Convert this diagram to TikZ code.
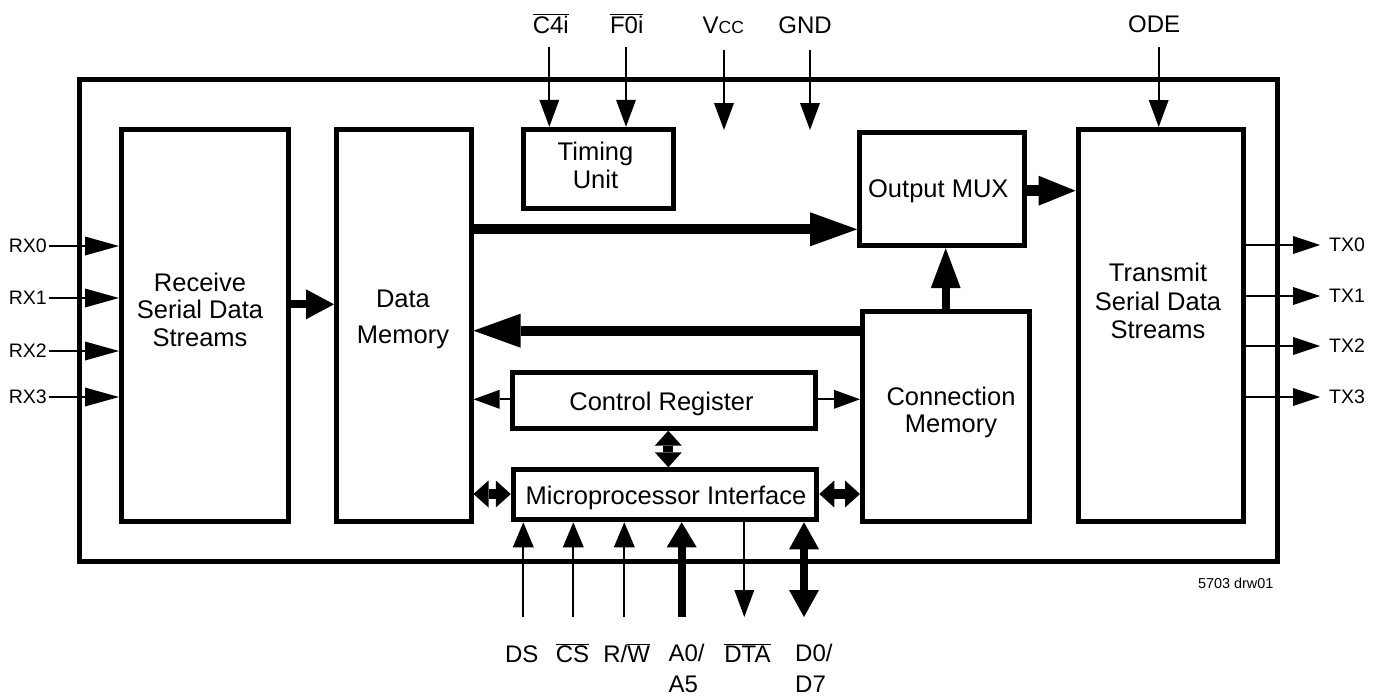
\documentclass[tikz,border=0pt]{standalone}
\usepackage{fontspec}
\setmainfont{Liberation Sans}
\usetikzlibrary{arrows.meta}
\newcommand\ovl[1]{$\overline{\hbox{#1}}$}
\newcommand\fsMain{\fontsize{25.5}{27.5}\selectfont}
\newcommand\fsPin{\fontsize{24}{31}\selectfont}
\newcommand\fsIO{\fontsize{19.5}{22}\selectfont}
\newcommand\fsNote{\fontsize{14.4}{16}\selectfont}
\tikzset{
 blk/.style={draw, line width=5pt, inner sep=0pt},
 txt/.style={inner sep=0pt, align=center, font=\fsMain},
 pinlbl/.style={inner sep=0pt, font=\fsPin, anchor=base},
 iolbl/.style={inner sep=0pt, font=\fsIO},
 sarr/.style={line width=2pt, -{Triangle[length=26pt,width=19pt,line width=0pt]}},
 rxarr/.style={line width=2pt, -{Triangle[length=34pt,width=19pt,line width=0pt]}},
 txarr/.style={line width=2pt, -{Triangle[length=27pt,width=18pt,line width=0pt]}},
 toparr/.style={line width=2pt, -{Triangle[length=27pt,width=20pt,line width=0pt]}},
 botarr/.style={line width=2pt, -{Triangle[length=25pt,width=21pt,line width=0pt]}},
 bigarr/.style={line width=10pt, -{Triangle[length=47pt,width=34pt,line width=0pt]}},
 medarr/.style={line width=8pt, -{Triangle[length=28pt,width=30pt,line width=0pt]}},
 uparr/.style={line width=8pt, -{Triangle[length=40pt,width=30pt,line width=0pt]}},
 muxarr/.style={line width=11pt, -{Triangle[length=37pt,width=30pt,line width=0pt]}},
 busarr/.style={line width=8pt, -{Triangle[length=25pt,width=30pt,line width=0pt]}},
 busdbl/.style={line width=8pt, {Triangle[length=27pt,width=30pt,line width=0pt]}-{Triangle[length=27pt,width=30pt,line width=0pt]}},
 smdbl/.style={line width=10pt, {Triangle[length=15pt,width=27pt,line width=0pt]}-{Triangle[length=15pt,width=27pt,line width=0pt]}},
}
\begin{document}
\begin{tikzpicture}[x=1pt,y=-1pt]
\useasboundingbox (0,0) rectangle (1377,696);

% outer device box
\node[blk, minimum width=1198.5pt, minimum height=482pt] (chip) at (678.25,320.5) {};

% blocks
\node[blk, minimum width=166.5pt, minimum height=391.5pt] (recv) at (204.75,325.25) {};
\node[blk, minimum width=134.5pt, minimum height=391.5pt] (dmem) at (403.75,325.25) {};
\node[blk, minimum width=165pt,   minimum height=391.5pt] (xmit) at (1160.5,325.25) {};
\node[blk, minimum width=149.7pt, minimum height=79pt]    (tim)  at (598.15,168.8) {};
\node[blk, minimum width=165pt,   minimum height=113.7pt] (mux)  at (942.2,188.85) {};
\node[blk, minimum width=166.5pt, minimum height=210.2pt] (cmem) at (945.75,416.4) {};
\node[blk, minimum width=302.8pt, minimum height=55.7pt]  (creg) at (664.1,400.35) {};
\node[blk, minimum width=303.5pt, minimum height=50pt]    (mpi)  at (665.05,494.8) {};

% block texts
\node[txt] (recvT) at (200,309.5) {Receive\\Serial Data\\Streams};
\node[txt, font=\fontsize{25.5}{35.7}\selectfont] (dmemT) at (403,319.7) {Data\\Memory};
\node[txt, font=\fontsize{25.5}{28.3}\selectfont] (xmitT) at (1158,301) {Transmit\\Serial Data\\Streams};
\node[txt, font=\fontsize{25.5}{28}\selectfont] (timT) at (595.5,165) {Timing\\Unit};
\node[txt, anchor=base] (muxT) at (938.3,197) {Output MUX};
\node[txt, font=\fontsize{25.5}{27}\selectfont] (cmemT) at (951,412) {Connection\\Memory};
\node[txt, anchor=base] (cregT) at (661.5,410) {Control Register};
\node[txt, anchor=base] (mpiT) at (666,504) {Microprocessor Interface};

% receive inputs
\foreach \n/\y in {0/246,1/298,2/351,3/397}{
  \node[iolbl, anchor=east] (rx\n) at (47,\y) {RX\n};
  \draw[rxarr, shorten <=1.5pt] (rx\n.east) -- (recv.west |- rx\n.east);
}
% transmit outputs
\foreach \n/\y in {0/245,1/296,2/346,3/397}{
  \node[iolbl, anchor=west] (tx\n) at (1329,\y) {TX\n};
  \draw[txarr, shorten >=9pt] (xmit.east |- tx\n.west) -- (tx\n.west);
}

% internal data paths
\draw[medarr] (recv.east |- 0,304.3) -- (dmem.west |- 0,304.3);
\draw[bigarr] (dmem.east |- 0,229.3) -- (mux.west |- 0,229.3);
\draw[bigarr] (cmem.west |- 0,330.7) -- (dmem.east |- 0,330.7);
\draw[muxarr] (mux.east |- 0,190.7) -- (xmit.west |- 0,190.7);
\draw[uparr] (cmem.north -| 945.7,0) -- (mux.south -| 945.7,0);
\draw[sarr] (creg.west |- 0,399.3) -- (dmem.east |- 0,399.3);
\draw[sarr] (creg.east |- 0,399.3) -- (cmem.west |- 0,399.3);
\draw[smdbl] (creg.south -| 668.3,0) -- (mpi.north -| 668.3,0);
\draw[smdbl] (dmem.east |- 0,494) -- (mpi.west |- 0,494);
\draw[smdbl] (mpi.east |- 0,494) -- (cmem.west |- 0,494);

% top pins
\node[pinlbl] (c4L) at (550.8,33) {\ovl{C4i}};
\node[pinlbl] (f0L) at (626.7,33) {\ovl{F0i}};
\node[pinlbl] (vccL) at (723.3,33) {V{\fontsize{17.5}{17.5}\selectfont CC}};
\node[pinlbl] (gndL) at (805,33) {GND};
\node[pinlbl] (odeL) at (1154.2,32) {ODE};
\coordinate (c4S) at (549.3,47);
\coordinate (f0S) at (626,47);
\coordinate (vccS) at (724,50);
\coordinate (vccE) at (724,130);
\coordinate (gndS) at (810,50);
\coordinate (gndE) at (810,130);
\coordinate (odeS) at (1158.7,47);
\draw[toparr] (c4S) -- (tim.north -| c4S);
\draw[toparr] (f0S) -- (tim.north -| f0S);
\draw[toparr] (vccS) -- (vccE);
\draw[toparr] (gndS) -- (gndE);
\draw[toparr] (odeS) -- (xmit.north -| odeS);

% bottom pins
\coordinate (dsS) at (523.3,617);
\coordinate (csS) at (573.3,617);
\coordinate (rwS) at (624.3,617);
\coordinate (aS) at (681.7,617);
\coordinate (dtaS) at (744.3,617);
\coordinate (dS) at (804,617);
\draw[botarr] (dsS) -- (mpi.south -| dsS);
\draw[botarr] (csS) -- (mpi.south -| csS);
\draw[botarr] (rwS) -- (mpi.south -| rwS);
\draw[busarr] (aS) -- (mpi.south -| aS);
\draw[toparr] (mpi.south -| dtaS) -- (dtaS);
\draw[busdbl] (mpi.south -| dS) -- (dS);

\node[pinlbl] (dsL) at (521.7,662) {DS};
\node[pinlbl] (csL) at (572.5,662) {\ovl{CS}};
\node[pinlbl] (rwL) at (626.7,662) {R/\ovl{W}};
\node[inner sep=0pt, font=\fsPin, align=left, anchor=north west] (aL) at (668.3,643.5) {A0/\\A5};
\node[pinlbl] (dtaL) at (747.5,662) {\ovl{DTA}};
\node[inner sep=0pt, font=\fsPin, align=left, anchor=north west] (dL) at (795,643.5) {D0/\\D7};

% drawing number
\node[inner sep=0pt, font=\fsNote, anchor=base] (note) at (1235.7,588.3) {5703 drw01};
\end{tikzpicture}
\end{document}
